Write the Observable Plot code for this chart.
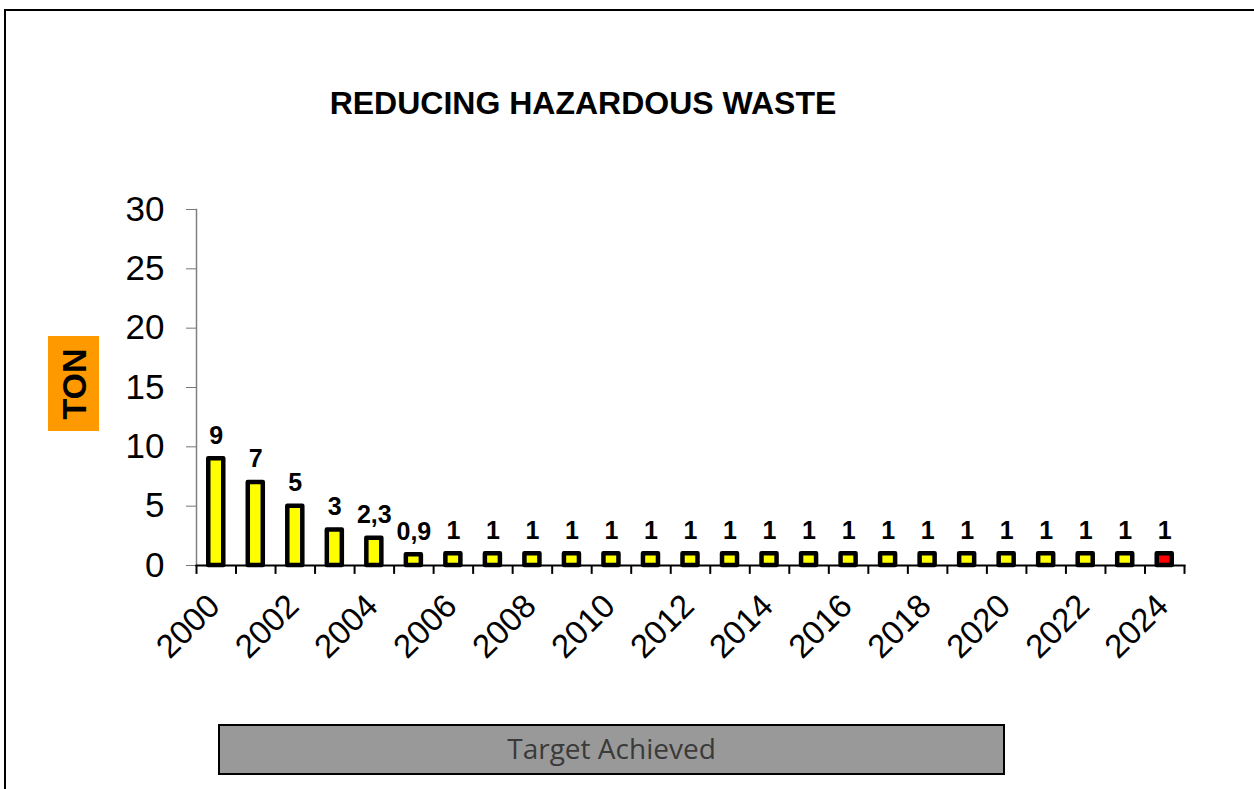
<!DOCTYPE html>
<html>
<head>
<meta charset="utf-8">
<script src="https://cdn.jsdelivr.net/npm/d3@7"></script>
<script src="https://cdn.jsdelivr.net/npm/@observablehq/plot@0.6"></script>
<style>
  body { margin: 0; background: #fff; }
  #wrap { position: relative; width: 1254px; height: 789px; overflow: hidden; font-family: "Liberation Sans", Arial, sans-serif; background: #fff; }
  #frame { position: absolute; left: 4px; top: 9px; width: 1400px; height: 1000px; border-left: 2px solid #000; border-top: 2px solid #000; }
  #title { position: absolute; left: 0; top: 87px; width: 1166px; text-align: center; font-weight: bold; font-size: 32px; line-height: 1; color: #000; }
  #chart { position: absolute; left: 0; top: 0; }
  #ylab { position: absolute; left: 48px; top: 336px; width: 51px; height: 95px; background: #FF9900; }
  #ylab span { position: absolute; left: 50%; top: 50%; transform: translate(-50%, -50%) rotate(-90deg); font-weight: bold; font-size: 34px; line-height: 1; white-space: nowrap; color: #000; }
  #target { position: absolute; left: 218px; top: 724px; width: 787px; height: 51px; box-sizing: border-box; border: 2px solid #000; background: #999999; color: #3a3a3a; font-family: "Open Sans", sans-serif; font-size: 28px; line-height: 45px; text-align: center; }
</style>
</head>
<body>
<div id="wrap">
  <div id="frame"></div>
  <div id="chart"></div>
  <div id="title">REDUCING HAZARDOUS WASTE</div>
  <div id="ylab"><span>TON</span></div>
  <div id="target">Target Achieved</div>
</div>
<script>
const years = [2000, 2001, 2002, 2003, 2004, 2005, 2006, 2007, 2008, 2009, 2010, 2011, 2012,
               2013, 2014, 2015, 2016, 2017, 2018, 2019, 2020, 2021, 2022, 2023, 2024];
const values = [9, 7, 5, 3, 2.3, 0.9, 1, 1, 1, 1, 1, 1, 1,
                1, 1, 1, 1, 1, 1, 1, 1, 1, 1, 1, 1];
const barColors = ["#FFFF00", "#FFFF00", "#FFFF00", "#FFFF00", "#FFFF00", "#FFFF00", "#FFFF00",
                   "#FFFF00", "#FFFF00", "#FFFF00", "#FFFF00", "#FFFF00", "#FFFF00", "#FFFF00",
                   "#FFFF00", "#FFFF00", "#FFFF00", "#FFFF00", "#FFFF00", "#FFFF00", "#FFFF00",
                   "#FFFF00", "#FFFF00", "#FFFF00", "#FF0000"];
const yTicks = [0, 5, 10, 15, 20, 25, 30];
const xTickLabels = [2000, 2002, 2004, 2006, 2008, 2010, 2012, 2014, 2016, 2018, 2020, 2022, 2024];

const data = years.map((year, i) => ({year, value: values[i], color: barColors[i]}));
const lastYear = [years[years.length - 1]];

const W = 1254, H = 700, ML = 196, MR = 70, MT = 209, MB = 135;
const step = (W - ML - MR) / years.length;

const chart = Plot.plot({
  width: W,
  height: H,
  marginLeft: ML,
  marginRight: MR,
  marginTop: MT,
  marginBottom: MB,
  style: {fontFamily: "'Liberation Sans', Arial, sans-serif", background: "transparent", overflow: "visible", color: "#000"},
  x: {type: "band", domain: years, paddingInner: 0.62, paddingOuter: 0.31, round: false},
  y: {domain: [0, 30]},
  marks: [
    Plot.barY(data, {x: "year", y: "value", fill: "color", stroke: "#000", strokeWidth: 4.5, strokeLinejoin: "round"}),
    Plot.frame({anchor: "left", stroke: "#808080", strokeWidth: 1.5}),
    Plot.axisY({ticks: yTicks, tickSize: 10, tickPadding: 22, fontSize: 35, stroke: "#777", fill: "#000", label: null}),
    Plot.ruleX(years, {x: d => d, y1: 0, y2: -0.75, dx: -step / 2, stroke: "#000", strokeWidth: 2}),
    Plot.ruleX(lastYear, {x: d => d, y1: 0, y2: -0.75, dx: step / 2, stroke: "#000", strokeWidth: 2}),
    Plot.frame({anchor: "bottom", stroke: "#000", strokeWidth: 2}),
    Plot.axisX({ticks: xTickLabels, tickFormat: d => String(d), tickSize: 0, tickPadding: 35, dx: -2, tickRotate: -45, fontSize: 33, fill: "#000", label: null}),
    Plot.text(data, {x: "year", y: "value", text: d => String(d.value).replace(".", ","), dy: -15, lineAnchor: "bottom", fontWeight: "bold", fontSize: 25, fill: "#000"})
  ]
});
document.getElementById("chart").appendChild(chart);
</script>
</body>
</html>
